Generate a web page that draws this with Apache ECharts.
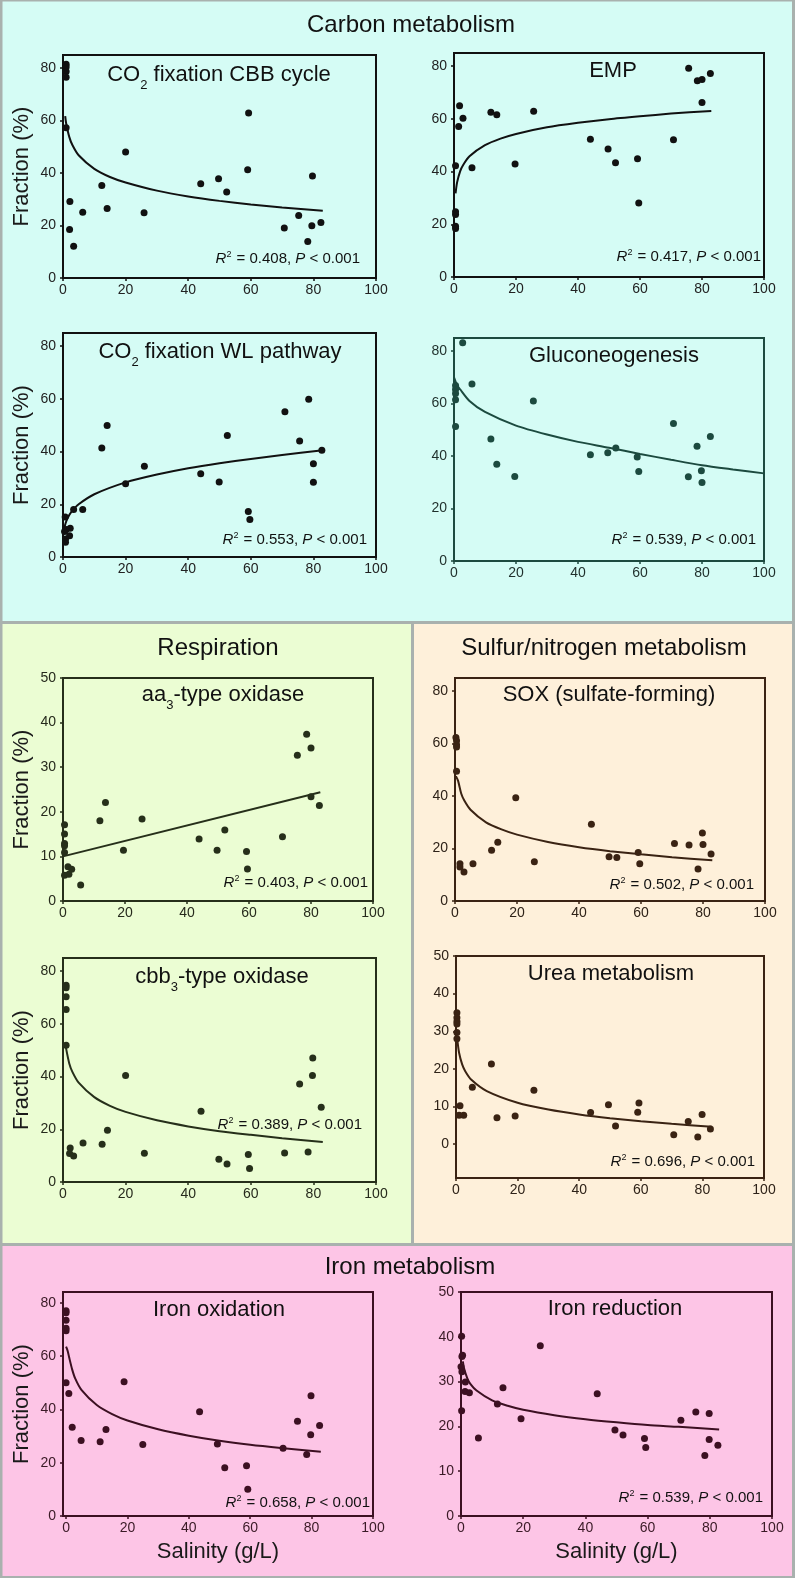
<!DOCTYPE html>
<html>
<head>
<meta charset="utf-8">
<script src="https://cdn.jsdelivr.net/npm/echarts@6/dist/echarts.min.js"></script>
<style>html,body{margin:0;padding:0;background:#fff}#c{width:795px;height:1578px}</style>
</head>
<body>
<div id="c"></div>
<script>
// ---------- tick labels ----------
const xTicks = [0, 20, 40, 60, 80, 100];
const yTicks80 = [0, 20, 40, 60, 80];
const yTicks50 = [0, 10, 20, 30, 40, 50];

// ---------- Carbon metabolism ----------
const cbbX = [1, 1, 1, 1, 1, 2.2, 2.1, 3.4, 6.3, 12.4, 14.1, 20.0, 25.9, 44.0, 49.7, 52.3, 59.3, 59.0, 70.7, 75.3, 78.2, 79.7, 79.5, 82.4];
const cbbY = [81.5, 80.4, 78.7, 76.5, 57.3, 29.2, 18.5, 12.1, 25.1, 35.3, 26.5, 48.0, 24.9, 35.9, 37.8, 32.8, 62.9, 41.3, 19.1, 23.8, 13.9, 38.9, 19.9, 21.2];
const cbbFitX = [0.7, 1, 2, 3, 5, 10, 15, 20, 30, 40, 50, 60, 70, 83];
const cbbFitY = [61.7, 59, 53.8, 50.7, 46.8, 41.6, 38.5, 36.4, 33.3, 31.1, 29.4, 28, 26.9, 25.6];

const empX = [0.5, 0.5, 0.5, 0.5, 0.5, 1.8, 1.5, 2.9, 5.8, 11.9, 13.8, 19.7, 25.7, 44, 49.7, 52.1, 59.2, 59.6, 70.8, 75.7, 78.5, 80, 80, 82.7];
const empY = [18.4, 19.3, 23.7, 24.8, 42.2, 65, 57.1, 60.2, 41.5, 62.5, 61.6, 42.9, 62.9, 52.3, 48.6, 43.4, 44.9, 28.1, 52.1, 79.2, 74.5, 74.9, 66.2, 77.2];
const empFitX = [0.5, 1, 2, 3, 5, 10, 15, 20, 30, 40, 50, 60, 70, 83];
const empFitY = [31.7, 35.9, 40.2, 42.6, 45.8, 50, 52.5, 54.3, 56.8, 58.5, 59.9, 61, 62, 63];

const wlX = [0.7, 0.5, 0.8, 0.8, 1.0, 2.3, 2.1, 3.4, 6.3, 12.4, 14.1, 20, 26, 44, 49.9, 52.5, 59.2, 59.7, 70.9, 75.6, 78.5, 80, 80, 82.7];
const wlY = [15.2, 9.7, 6.8, 5.6, 10.4, 10.9, 8.1, 18, 18, 41.4, 49.9, 27.8, 34.4, 31.6, 28.5, 46.1, 17.3, 14.2, 55.1, 44, 59.9, 35.4, 28.4, 40.5];
const wlFitX = [0.2, 0.5, 1, 2, 3, 5, 10, 20, 30, 40, 50, 60, 70, 83];
const wlFitY = [9, 11.3, 13.4, 15.9, 17.6, 20, 23.8, 28.3, 31.3, 33.7, 35.6, 37.2, 38.7, 40.5];

const glX = [2.8, 0.5, 0.5, 0.5, 0.5, 0.5, 5.8, 11.9, 13.8, 19.6, 25.6, 44, 49.6, 52.2, 59.1, 59.6, 70.8, 75.6, 78.4, 79.8, 80, 82.7];
const glY = [83.2, 66.9, 65.4, 63.8, 61.5, 51.3, 67.5, 46.5, 36.9, 32.2, 61, 40.5, 41.3, 43.1, 39.6, 34.1, 52.4, 32.1, 43.7, 34.4, 29.9, 47.5];
const glFitX = [0, 1, 2, 5, 10, 20, 30, 40, 50, 60, 70, 80, 90, 100];
const glFitY = [70, 67, 65.4, 61, 56.8, 51.6, 48.2, 45.4, 43.2, 40.8, 38.6, 36.5, 34.9, 33.4];

// ---------- Respiration ----------
const aaX = [0.5, 0.5, 0.5, 0.5, 0.5, 0.5, 1.6, 1.9, 2.8, 5.7, 11.9, 13.7, 19.5, 25.5, 43.9, 49.7, 52.2, 59.2, 59.5, 70.8, 75.6, 78.6, 80, 80, 82.7];
const aaY = [17.1, 15, 12.9, 12.4, 10.9, 5.8, 7.7, 6, 7.1, 3.6, 18, 22.1, 11.4, 18.4, 13.9, 11.4, 15.9, 11.1, 7.2, 14.4, 32.7, 37.4, 34.3, 23.4, 21.4];
const aaFitX = [0, 83];
const aaFitY = [10, 24.4];

const cbX = [1, 1, 1, 1, 1, 2.3, 2.1, 3.4, 6.4, 12.5, 14.2, 20, 26, 44.1, 49.8, 52.4, 59.2, 59.6, 70.8, 75.6, 78.3, 79.8, 79.7, 82.5];
const cbY = [74.7, 73.7, 70.3, 65.5, 51.9, 12.9, 10.8, 9.9, 14.8, 14.3, 19.6, 40.4, 10.9, 26.8, 8.6, 6.8, 10.4, 5.1, 11, 37.2, 11.4, 47.1, 40.4, 28.4];
const cbFitX = [0.8, 1, 2, 3, 5, 10, 15, 20, 30, 40, 50, 60, 70, 83];
const cbFitY = [52.4, 50.6, 45, 41.8, 37.7, 32.2, 28.9, 26.6, 23.4, 21.1, 19.3, 17.9, 16.6, 15.2];

// ---------- Sulfur / nitrogen ----------
const soxX = [0.3, 0.5, 0.5, 0.5, 0.5, 1.6, 1.6, 2.9, 5.8, 11.8, 13.8, 19.6, 25.6, 44, 49.7, 52.2, 59.1, 59.6, 70.8, 75.5, 78.4, 79.8, 80, 82.6];
const soxY = [62.3, 61.1, 59.6, 58.7, 49.5, 14.2, 13, 11.1, 14.2, 19.3, 22.4, 39.4, 15, 29.3, 16.9, 16.6, 18.5, 14.2, 21.9, 21.3, 12.2, 25.9, 21.5, 17.9];
const soxFitX = [0.3, 1, 2, 3, 5, 10, 15, 20, 30, 40, 50, 60, 70, 83];
const soxFitY = [47.6, 45.8, 41, 38.3, 34.8, 30, 27.3, 25.3, 22.5, 20.5, 19, 17.8, 16.7, 15.5];

const urX = [0.3, 0.3, 0.3, 0.3, 0.3, 0.3, 1.3, 1, 2.5, 5.3, 11.5, 13.3, 19.2, 25.3, 43.7, 49.5, 51.8, 59, 59.4, 70.7, 75.4, 78.5, 79.9, 82.6];
const urY = [34.9, 33.6, 32.6, 31.9, 29.7, 28, 10.2, 7.7, 7.7, 15.1, 21.3, 7, 7.5, 14.3, 8.4, 10.5, 4.8, 8.5, 10.9, 2.5, 6, 1.9, 7.9, 4];
const urFitX = [0.4, 1, 2, 3, 5, 10, 20, 30, 40, 50, 60, 70, 83];
const urFitY = [28, 24.3, 21.2, 19.4, 17.1, 14.1, 11, 9.2, 7.9, 6.9, 6.1, 5.4, 4.6];

// ---------- Iron metabolism ----------
const ioX = [0, 0, 0, 0, 0, 0, 0.9, 2, 4.9, 11.1, 13, 18.9, 25, 43.5, 49.3, 51.7, 58.8, 59.2, 70.7, 75.4, 78.4, 79.8, 79.7, 82.6];
const ioY = [77, 76.2, 73.4, 70.4, 69.5, 50, 45.9, 33.3, 28.3, 27.8, 32.4, 50.3, 26.8, 39.1, 27, 18.1, 18.8, 10, 25.4, 35.5, 23.1, 45.1, 30.5, 33.9];
const ioFitX = [0, 0.5, 1, 2, 3, 5, 10, 15, 20, 30, 40, 50, 60, 70, 83];
const ioFitY = [63.5, 62, 59.5, 54.9, 51.5, 47.3, 41.6, 38.2, 35.8, 32.5, 30.1, 28.2, 26.7, 25.5, 24.1];

const irX = [0.2, 0.5, 0.3, 0.3, 0, 0.2, 1.4, 1.3, 2.7, 5.6, 11.7, 13.5, 19.3, 25.5, 43.8, 49.5, 52.1, 59, 59.4, 70.7, 75.5, 78.4, 79.8, 79.8, 82.6];
const irY = [40.1, 35.9, 35.6, 32.2, 33.3, 23.5, 29.9, 27.8, 27.5, 17.4, 25, 28.6, 21.7, 38, 27.3, 19.2, 18.1, 17.3, 15.3, 21.4, 23.2, 13.5, 22.9, 17.1, 15.8];
const irFitX = [0.6, 1, 2, 3, 5, 10, 15, 20, 30, 40, 50, 60, 70, 83];
const irFitY = [34.5, 32.9, 30.8, 29.5, 28, 25.8, 24.6, 23.7, 22.5, 21.6, 20.9, 20.3, 19.9, 19.3];

// ---------- texts ----------
const sectionTitles = ['Carbon metabolism', 'Respiration', 'Sulfur/nitrogen metabolism', 'Iron metabolism'];
const panelTitles = [
  ['CO', '2', ' fixation CBB cycle'], ['EMP'], ['CO', '2', ' fixation WL pathway'], ['Gluconeogenesis'],
  ['aa', '3', '-type oxidase'], ['SOX (sulfate-forming)'], ['cbb', '3', '-type oxidase'], ['Urea metabolism'],
  ['Iron oxidation'], ['Iron reduction']
];
const r2Values = ['0.408', '0.417', '0.553', '0.539', '0.403', '0.502', '0.389', '0.696', '0.658', '0.539'];
const yName = 'Fraction (%)';
const xName = 'Salinity (g/L)';

// ---------- layout / style (not data) ----------
const FONT = '"Liberation Sans", Arial, sans-serif';
const K = '#111111', TEAL = '#1c4a3f', OLIVE = '#262f1a', BROWN = '#3a2313', MAROON = '#3c1022';
const panels = [
  {x: cbbX, y: cbbY, fx: cbbFitX, fy: cbbFitY, g: [63, 55, 313, 223], xmin: 0, ymin: 0, ymax: 85, yt: yTicks80, c: K, lab: '#222', t: [219, 75], r: [360, 259], yn: true},
  {x: empX, y: empY, fx: empFitX, fy: empFitY, g: [454, 53, 310, 224], xmin: 0, ymin: 0, ymax: 85, yt: yTicks80, c: K, lab: '#222', t: [613, 71], r: [761, 257]},
  {x: wlX, y: wlY, fx: wlFitX, fy: wlFitY, g: [63, 333, 313, 224], xmin: 0, ymin: 0, ymax: 85, yt: yTicks80, c: K, lab: '#222', t: [220, 352], r: [367, 540], yn: true},
  {x: glX, y: glY, fx: glFitX, fy: glFitY, g: [454, 338, 310, 223], xmin: 0, ymin: 0, ymax: 85, yt: yTicks80, c: TEAL, lab: '#1f2f2b', t: [614, 356], r: [756, 540]},
  {x: aaX, y: aaY, fx: aaFitX, fy: aaFitY, g: [63, 678, 310, 223], xmin: 0, ymin: 0, ymax: 50, yt: yTicks50, c: OLIVE, lab: '#262a1c', t: [223, 695], r: [368, 883], yn: true},
  {x: soxX, y: soxY, fx: soxFitX, fy: soxFitY, g: [455, 678, 310, 223], xmin: 0, ymin: 0, ymax: 85, yt: yTicks80, c: BROWN, lab: '#2e2218', t: [609, 695], r: [754, 885]},
  {x: cbX, y: cbY, fx: cbFitX, fy: cbFitY, g: [63, 958, 313, 224], xmin: 0, ymin: 0, ymax: 85, yt: yTicks80, c: OLIVE, lab: '#262a1c', t: [222, 977], r: [362, 1125], yn: true},
  {x: urX, y: urY, fx: urFitX, fy: urFitY, g: [456, 956, 308, 222], xmin: 0, ymin: -9, ymax: 50, yt: yTicks50, c: BROWN, lab: '#2e2218', t: [611, 974], r: [755, 1162]},
  {x: ioX, y: ioY, fx: ioFitX, fy: ioFitY, g: [63, 1292, 310, 224], xmin: -1, ymin: 0, ymax: 84, yt: yTicks80, c: MAROON, lab: '#3a1a26', t: [219, 1310], r: [370, 1503], yn: true, xn: true},
  {x: irX, y: irY, fx: irFitX, fy: irFitY, g: [461, 1292, 311, 224], xmin: 0, ymin: 0, ymax: 50, yt: yTicks50, c: MAROON, lab: '#3a1a26', t: [615, 1309], r: [763, 1498], xn: true}
];

const zip = (a, b) => a.map((v, i) => [v, b[i]]);
const grid = [], xAxis = [], yAxis = [], series = [], texts = [];

panels.forEach((p, i) => {
  grid.push({left: p.g[0], top: p.g[1], width: p.g[2], height: p.g[3], show: true, borderColor: p.c, borderWidth: 2, backgroundColor: 'transparent'});
  xAxis.push({
    type: 'value', gridIndex: i, min: p.xmin, max: 100,
    axisLine: {show: true, onZero: false, lineStyle: {color: p.c, width: 2}},
    axisTick: {show: true, length: 3, inside: false, customValues: xTicks, lineStyle: {color: p.c, width: 1.5}},
    axisLabel: {customValues: xTicks, color: p.lab, fontSize: 14, fontFamily: FONT, margin: 5},
    splitLine: {show: false},
    name: p.xn ? xName : '', nameLocation: 'middle', nameGap: 25,
    nameTextStyle: {fontSize: 22, color: '#1a1a1a', fontFamily: FONT}
  });
  yAxis.push({
    type: 'value', gridIndex: i, min: p.ymin, max: p.ymax,
    axisLine: {show: true, onZero: false, lineStyle: {color: p.c, width: 2}},
    axisTick: {show: true, length: 3, inside: false, customValues: p.yt, lineStyle: {color: p.c, width: 1.5}},
    axisLabel: {customValues: p.yt, color: p.lab, fontSize: 14, fontFamily: FONT, margin: 7},
    splitLine: {show: false},
    name: p.yn ? yName : '', nameLocation: 'middle', nameGap: 30,
    nameTextStyle: {fontSize: 22, color: '#1a1a1a', fontFamily: FONT}
  });
  series.push({
    type: 'line', xAxisIndex: i, yAxisIndex: i, data: zip(p.fx, p.fy), showSymbol: false, smooth: 0.25,
    lineStyle: {color: p.c, width: 2}, z: 2, silent: true, animation: false
  });
  series.push({
    type: 'scatter', xAxisIndex: i, yAxisIndex: i, data: zip(p.x, p.y), symbolSize: 7,
    itemStyle: {color: p.c, opacity: 1}, z: 3, animation: false
  });
  // panel title
  const pt = panelTitles[i];
  let txt;
  if (pt.length === 3) txt = '{n|' + pt[0] + '}{s|' + pt[1] + '}{n|' + pt[2] + '}';
  else txt = '{n|' + pt[0] + '}';
  texts.push({
    type: 'text', x: p.t[0], y: p.t[1], z: 10,
    style: {
      text: txt, align: 'center', verticalAlign: 'middle', fill: '#111',
      rich: {
        n: {fontSize: 22, fontFamily: FONT, fill: '#111'},
        s: {fontSize: 13, fontFamily: FONT, fill: '#111', padding: [20, 0, 0, 0]}
      }
    }
  });
  // R2 annotation
  texts.push({
    type: 'text', x: p.r[0], y: p.r[1], z: 10,
    style: {
      text: '{i|R}{p|2}{n| = ' + r2Values[i] + ', }{i|P}{n| < 0.001}', align: 'right', verticalAlign: 'middle', fill: '#111',
      rich: {
        i: {fontSize: 15, fontStyle: 'italic', fontFamily: FONT, fill: '#111'},
        n: {fontSize: 15, fontFamily: FONT, fill: '#111'},
        p: {fontSize: 9, fontFamily: FONT, fill: '#111', padding: [0, 1, 8, 0]}
      }
    }
  });
});

const secStyle = (t, x, y) => ({
  type: 'text', x: x, y: y, z: 10,
  style: {text: t, align: 'center', verticalAlign: 'middle', fontSize: 24, fontFamily: FONT, fill: '#111'}
});

const bg = [
  {type: 'rect', shape: {x: 0, y: 0, width: 795, height: 1578}, style: {fill: '#a9b1ae'}, z: -10},
  {type: 'rect', shape: {x: 2.5, y: 1.5, width: 789.5, height: 619.5}, style: {fill: '#d5fcf5'}, z: -9},
  {type: 'rect', shape: {x: 2.5, y: 624, width: 408.5, height: 1219}, style: {fill: '#ebfdd3'}, z: -9},
  {type: 'rect', shape: {x: 414, y: 624, width: 378, height: 619}, style: {fill: '#fef0da'}, z: -9},
  {type: 'rect', shape: {x: 2.5, y: 1246, width: 789.5, height: 330}, style: {fill: '#fdc5e6'}, z: -9}
];
// fix green height
bg[2].shape.height = 619;

const chart = echarts.init(document.getElementById('c'), null, {renderer: 'canvas'});
chart.setOption({
  animation: false,
  backgroundColor: '#ffffff',
  grid: grid, xAxis: xAxis, yAxis: yAxis, series: series,
  graphic: bg.concat([
    secStyle(sectionTitles[0], 411, 25),
    secStyle(sectionTitles[1], 218, 648),
    secStyle(sectionTitles[2], 604, 648),
    secStyle(sectionTitles[3], 410, 1267)
  ]).concat(texts)
});
</script>
</body>
</html>
